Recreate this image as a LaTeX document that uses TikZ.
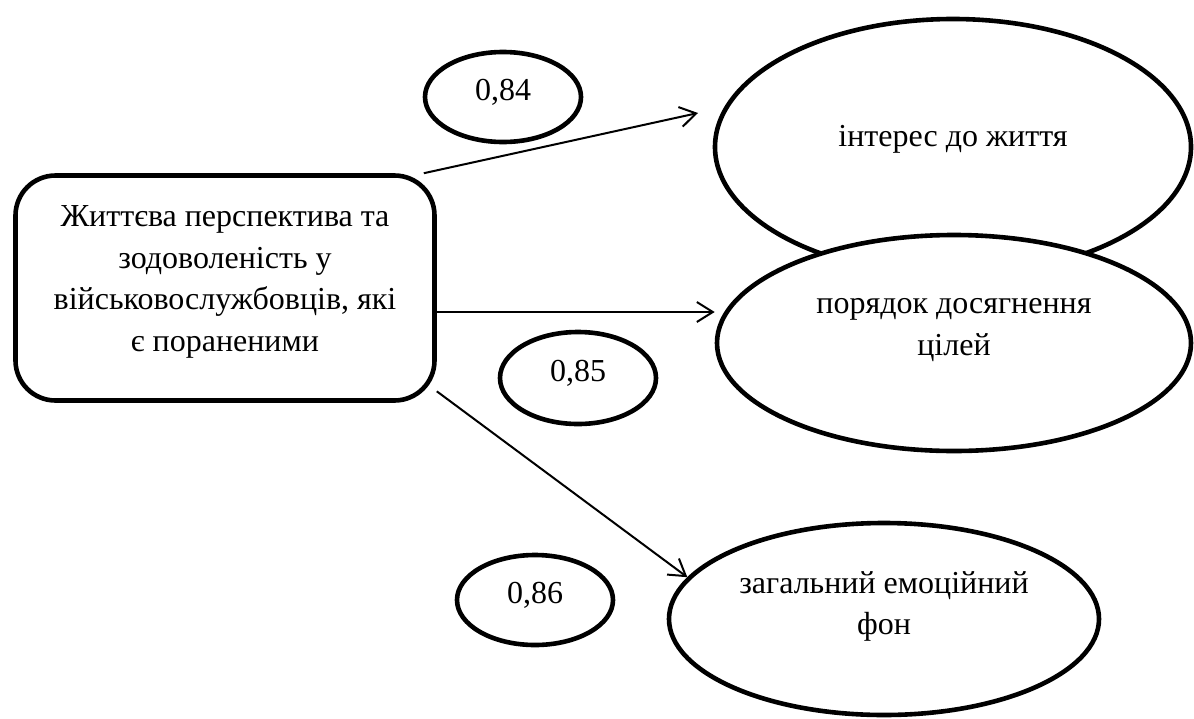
\documentclass[tikz,border=0pt]{standalone}
\usepackage{fontspec}
\setmainfont{Liberation Serif}
\usepackage{tikz}
\usetikzlibrary{shapes.geometric, arrows.meta, positioning, calc}

\begin{document}
\begin{tikzpicture}[
    x=0.5pt, y=-0.5pt,
    font=\rmfamily\fontsize{16}{20.8}\selectfont,
    mainbox/.style = {rectangle, rounded corners=20pt, draw=black, line width=2.3pt, fill=white, minimum width=209.5pt, minimum height=112.5pt, align=center},
    factor/.style = {ellipse, draw=black, line width=2.3pt, fill=white, align=center, inner sep=0pt},
    weight/.style = {ellipse, draw=black, line width=2.3pt, fill=white, minimum width=78pt, minimum height=45pt, text depth=7pt, inner sep=0pt},
    link/.style = {-{Straight Barb[length=8pt,width=10pt]}, line width=1pt}
]
    \useasboundingbox (0,0) rectangle (1194,718);

    % 1. Main construct
    \node [mainbox, text depth=9.5pt] (life) at (225,288) {Життєва перспектива та\\ зодоволеність у\\ військовослужбовців, які\\ є пораненими};

    % 2. Factors (goals drawn after interest, it covers its lower edge)
    \node [factor, minimum width=238pt, minimum height=128pt, text depth=11pt] (interest) at (953,147) {інтерес до життя};
    \node [factor, minimum width=237pt, minimum height=108pt, text depth=16pt] (goals) at (954,343) {порядок досягнення\\ цілей};
    \node [factor, minimum width=215pt, minimum height=96pt, text depth=16pt] (mood) at (884,619) {загальний емоційний\\ фон};

    % 3. Weights
    \node [weight] (w84) at (503,97) {0,84};
    \node [weight, minimum height=46pt] (w85) at (578,378) {0,85};
    \node [weight] (w86) at (535,600) {0,86};

    % 4. Links
    \coordinate (tip1) at (698,113);
    \coordinate (out2) at ([yshift=-12pt]life.east);

    % life to interest
    \draw [link] (life.30) -- (tip1);

    % life to goals
    \draw [link] (out2) -- (out2 -| goals.west);

    % life to mood
    \draw [link] (life.-26) -- (mood.168);
\end{tikzpicture}
\end{document}
